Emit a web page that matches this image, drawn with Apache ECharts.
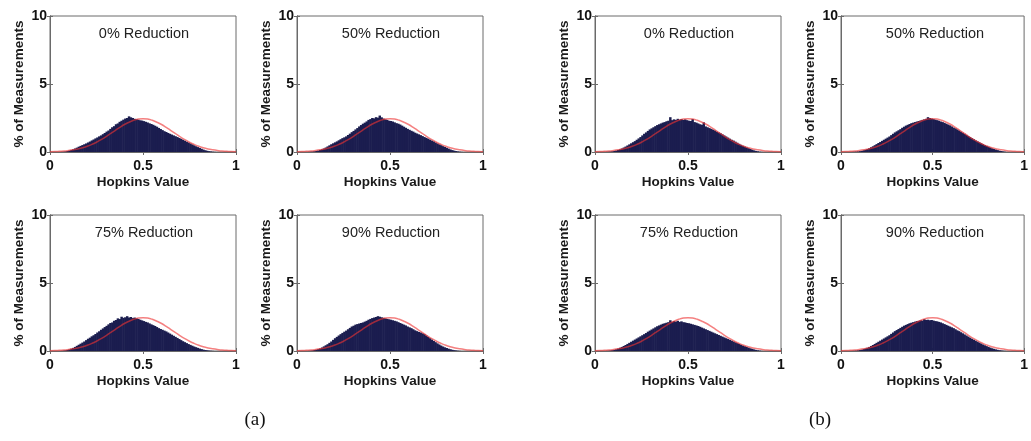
<!DOCTYPE html>
<html><head><meta charset="utf-8">
<script src="https://cdn.jsdelivr.net/npm/echarts@6/dist/echarts.min.js"></script>
<style>html,body{margin:0;padding:0;background:#fff}#c{width:1031px;height:441px}</style>
</head><body><div id="c"></div>
<script>
// Histogram bins: first bin starts at 0.05, width 0.01 (bins 0.05 .. 0.89)
const binStart = 0.05;
const binWidth = 0.01;

const histA0 = [0.00,0.01,0.02,0.04,0.07,0.11,0.15,0.20,0.26,0.32,0.39,0.45,0.51,0.57,0.63,0.70,0.77,0.85,0.92,1.00,1.07,1.15,1.22,1.31,1.40,1.50,1.58,1.70,1.82,1.90,2.04,2.10,2.22,2.30,2.38,2.46,2.50,2.62,2.55,2.50,2.44,2.41,2.38,2.33,2.31,2.27,2.22,2.17,2.11,2.06,2.00,1.93,1.86,1.77,1.69,1.61,1.53,1.47,1.40,1.34,1.28,1.22,1.16,1.10,1.03,0.97,0.90,0.83,0.76,0.70,0.63,0.56,0.49,0.42,0.36,0.30,0.24,0.18,0.13,0.09,0.06,0.04,0.02,0.01,0.00];
const histA50 = [0.00,0.01,0.02,0.03,0.05,0.08,0.11,0.15,0.20,0.26,0.33,0.41,0.49,0.57,0.64,0.71,0.78,0.86,0.94,1.02,1.08,1.15,1.25,1.35,1.46,1.55,1.66,1.76,1.88,1.98,2.08,2.16,2.25,2.36,2.42,2.50,2.47,2.56,2.52,2.68,2.55,2.46,2.40,2.36,2.30,2.28,2.24,2.18,2.12,2.08,2.02,1.94,1.86,1.78,1.70,1.63,1.56,1.50,1.42,1.36,1.30,1.24,1.17,1.10,1.04,0.98,0.91,0.84,0.78,0.70,0.63,0.56,0.50,0.43,0.37,0.31,0.25,0.19,0.14,0.10,0.07,0.04,0.02,0.01,0.00];
const histA75 = [0.00,0.01,0.03,0.05,0.08,0.12,0.17,0.23,0.30,0.38,0.46,0.54,0.62,0.70,0.80,0.90,0.98,1.08,1.16,1.25,1.36,1.45,1.56,1.66,1.76,1.85,1.96,2.06,2.10,2.22,2.28,2.40,2.35,2.52,2.44,2.48,2.56,2.46,2.50,2.42,2.46,2.40,2.36,2.30,2.25,2.20,2.14,2.10,2.03,1.96,1.90,1.84,1.76,1.68,1.62,1.56,1.50,1.44,1.36,1.28,1.20,1.12,1.04,0.96,0.88,0.80,0.72,0.65,0.58,0.51,0.45,0.39,0.33,0.28,0.23,0.18,0.14,0.10,0.07,0.05,0.03,0.02,0.01,0.00,0.00];
const histA90 = [0.00,0.01,0.02,0.04,0.07,0.10,0.14,0.19,0.26,0.34,0.42,0.50,0.60,0.70,0.82,0.94,1.04,1.14,1.24,1.33,1.42,1.50,1.60,1.70,1.80,1.86,1.94,1.98,2.02,2.06,2.10,2.16,2.22,2.30,2.36,2.42,2.46,2.50,2.56,2.52,2.48,2.44,2.40,2.36,2.33,2.30,2.26,2.22,2.18,2.12,2.06,2.00,1.94,1.88,1.80,1.74,1.68,1.60,1.52,1.46,1.40,1.36,1.30,1.24,1.14,1.04,0.94,0.84,0.74,0.65,0.56,0.48,0.40,0.33,0.27,0.22,0.17,0.13,0.09,0.06,0.04,0.02,0.01,0.00,0.00];
const histB0 = [0.00,0.01,0.02,0.03,0.05,0.08,0.11,0.15,0.20,0.26,0.33,0.40,0.48,0.56,0.64,0.72,0.80,0.90,1.00,1.10,1.22,1.34,1.44,1.55,1.66,1.74,1.82,1.90,1.98,2.04,2.10,2.16,2.20,2.26,2.30,2.56,2.34,2.40,2.36,2.44,2.38,2.42,2.36,2.40,2.34,2.30,2.28,2.42,2.20,2.16,2.10,2.04,2.00,2.18,1.88,1.82,1.76,1.70,1.64,1.58,1.50,1.44,1.38,1.30,1.22,1.14,1.06,0.98,0.90,0.84,0.76,0.68,0.60,0.53,0.46,0.40,0.34,0.28,0.22,0.17,0.12,0.08,0.05,0.02,0.01];
const histB50 = [0.00,0.01,0.02,0.03,0.04,0.06,0.09,0.13,0.17,0.22,0.28,0.35,0.42,0.50,0.58,0.66,0.74,0.82,0.90,0.98,1.06,1.14,1.24,1.34,1.44,1.52,1.60,1.68,1.78,1.86,1.94,2.00,2.06,2.12,2.16,2.20,2.24,2.28,2.32,2.36,2.40,2.44,2.56,2.50,2.46,2.42,2.38,2.34,2.30,2.24,2.20,2.14,2.08,2.02,1.96,1.88,1.80,1.74,1.66,1.58,1.50,1.42,1.34,1.26,1.18,1.10,1.02,0.94,0.86,0.79,0.72,0.65,0.58,0.51,0.45,0.39,0.33,0.27,0.22,0.18,0.14,0.10,0.07,0.04,0.02];
const histB75 = [0.00,0.01,0.02,0.04,0.06,0.09,0.13,0.18,0.24,0.30,0.37,0.44,0.52,0.60,0.68,0.76,0.84,0.92,1.00,1.08,1.16,1.24,1.32,1.42,1.50,1.58,1.66,1.74,1.82,1.88,1.94,2.00,2.04,2.08,2.12,2.26,2.14,2.20,2.16,2.22,2.14,2.18,2.12,2.10,2.06,2.04,2.00,1.96,1.92,1.88,1.84,1.78,1.72,1.66,1.60,1.54,1.48,1.42,1.36,1.30,1.24,1.18,1.12,1.06,1.00,0.94,0.88,0.82,0.76,0.70,0.64,0.58,0.52,0.46,0.40,0.35,0.30,0.25,0.20,0.16,0.12,0.08,0.05,0.03,0.01];
const histB90 = [0.00,0.01,0.02,0.03,0.05,0.07,0.10,0.14,0.19,0.24,0.30,0.37,0.44,0.52,0.60,0.68,0.76,0.84,0.92,1.00,1.08,1.16,1.26,1.36,1.46,1.54,1.62,1.70,1.78,1.86,1.92,1.98,2.04,2.08,2.12,2.16,2.20,2.22,2.26,2.24,2.34,2.28,2.30,2.26,2.28,2.24,2.20,2.18,2.14,2.10,2.04,1.98,1.92,1.86,1.80,1.74,1.68,1.60,1.52,1.46,1.38,1.30,1.22,1.14,1.06,0.98,0.90,0.83,0.76,0.69,0.62,0.55,0.48,0.42,0.36,0.30,0.25,0.20,0.16,0.12,0.09,0.06,0.04,0.02,0.01];

// Red fitted curve, sampled every 0.025 from 0 to 1
const fitStart = 0;
const fitStep = 0.025;
const fitValues = [0.02,0.03,0.05,0.07,0.11,0.16,0.22,0.31,0.42,0.56,0.72,0.91,1.12,1.35,1.58,1.81,2.02,2.19,2.33,2.42,2.45,2.42,2.33,2.19,2.02,1.81,1.58,1.35,1.12,0.91,0.72,0.56,0.42,0.31,0.22,0.16,0.11,0.07,0.05,0.03,0.02];

const panelTitles = ['0% Reduction','50% Reduction','75% Reduction','90% Reduction','0% Reduction','50% Reduction','75% Reduction','90% Reduction'];
const panelHists = [histA0, histA50, histA75, histA90, histB0, histB50, histB75, histB90];
const xTicks = [0, 0.5, 1];
const yTicks = [0, 5, 10];
const xAxisTitle = 'Hopkins Value';
const yAxisTitle = '% of Measurements';
const captions = ['(a)', '(b)'];

// ---- layout ----
const FONT = 'Liberation Sans, Arial, Helvetica, sans-serif';
const lefts = [50, 297, 50, 297, 595, 841, 595, 841];
const tops = [16, 16, 215, 215, 16, 16, 215, 215];
const PW = 186, PH = 136;
const AX = '#6a6a6a';
const barPx = PW * binWidth + 0.6; // slight overlap so bins form a solid fill

const grid = [], xAxis = [], yAxis = [], series = [], graphic = [];
panelHists.forEach((hist, i) => {
  grid.push({left: lefts[i], top: tops[i], width: PW, height: PH, show: true, borderColor: AX, borderWidth: 1});
  const xMin = xTicks[0], xMax = xTicks[xTicks.length - 1], xInt = xTicks[1] - xTicks[0];
  const yMin = yTicks[0], yMax = yTicks[yTicks.length - 1], yInt = yTicks[1] - yTicks[0];
  xAxis.push({
    gridIndex: i, type: 'value', min: xMin, max: xMax, interval: xInt,
    name: xAxisTitle, nameLocation: 'middle', nameGap: 23,
    nameTextStyle: {fontFamily: FONT, fontSize: 13.5, fontWeight: 'bold', color: '#1a1a1a'},
    axisLine: {show: true, lineStyle: {color: AX, width: 1}},
    axisTick: {show: true, inside: true, length: 3, lineStyle: {color: AX}},
    axisLabel: {margin: 7, fontFamily: FONT, fontSize: 14, fontWeight: 'bold', color: '#111'},
    splitLine: {show: false}
  });
  xAxis.push({
    gridIndex: i, type: 'value', position: 'top', min: xMin, max: xMax, interval: xInt,
    axisLine: {show: true, lineStyle: {color: AX, width: 1}},
    axisTick: {show: true, inside: true, length: 3, lineStyle: {color: AX}},
    axisLabel: {show: false}, splitLine: {show: false}
  });
  yAxis.push({
    gridIndex: i, type: 'value', min: yMin, max: yMax, interval: yInt,
    name: yAxisTitle, nameLocation: 'middle', nameGap: 24, nameRotate: 90,
    nameTextStyle: {fontFamily: FONT, fontSize: 13.5, fontWeight: 'bold', color: '#1a1a1a'},
    axisLine: {show: true, lineStyle: {color: AX, width: 1}},
    axisTick: {show: true, inside: true, length: 3, lineStyle: {color: AX}},
    axisLabel: {margin: 3, fontFamily: FONT, fontSize: 14, fontWeight: 'bold', color: '#111'},
    splitLine: {show: false}
  });
  yAxis.push({
    gridIndex: i, type: 'value', position: 'right', min: yMin, max: yMax, interval: yInt,
    axisLine: {show: true, lineStyle: {color: AX, width: 1}},
    axisTick: {show: true, inside: true, length: 3, lineStyle: {color: AX}},
    axisLabel: {show: false}, splitLine: {show: false}
  });
  series.push({
    type: 'bar', xAxisIndex: 2 * i, yAxisIndex: 2 * i, silent: true, animation: false,
    barWidth: barPx, barGap: '0%',
    itemStyle: {color: '#1b1d4f'},
    data: hist.map((v, k) => [binStart + binWidth * (k + 0.5), v])
  });
  series.push({
    type: 'line', xAxisIndex: 2 * i, yAxisIndex: 2 * i, silent: true, animation: false,
    smooth: true, showSymbol: false, symbol: 'none',
    lineStyle: {color: 'rgba(238,50,50,0.62)', width: 1.5},
    data: fitValues.map((v, k) => [fitStart + fitStep * k, v])
  });
  graphic.push({
    type: 'text', x: lefts[i] + PW / 2 + 1, y: tops[i] + 18, silent: true,
    style: {text: panelTitles[i], font: '14.5px ' + FONT, fill: '#222',
      align: 'center', verticalAlign: 'middle', textAlign: 'center', textVerticalAlign: 'middle'}
  });
});
const capX = [255, 820];
captions.forEach((c, j) => {
  graphic.push({
    type: 'text', x: capX[j], y: 420, silent: true,
    style: {text: c, font: '19px Liberation Serif, Times New Roman, serif', fill: '#111',
      align: 'center', verticalAlign: 'middle', textAlign: 'center', textVerticalAlign: 'middle'}
  });
});

const chart = echarts.init(document.getElementById('c'), null, {renderer: 'canvas'});
chart.setOption({animation: false, grid, xAxis, yAxis, series, graphic});
</script></body></html>
